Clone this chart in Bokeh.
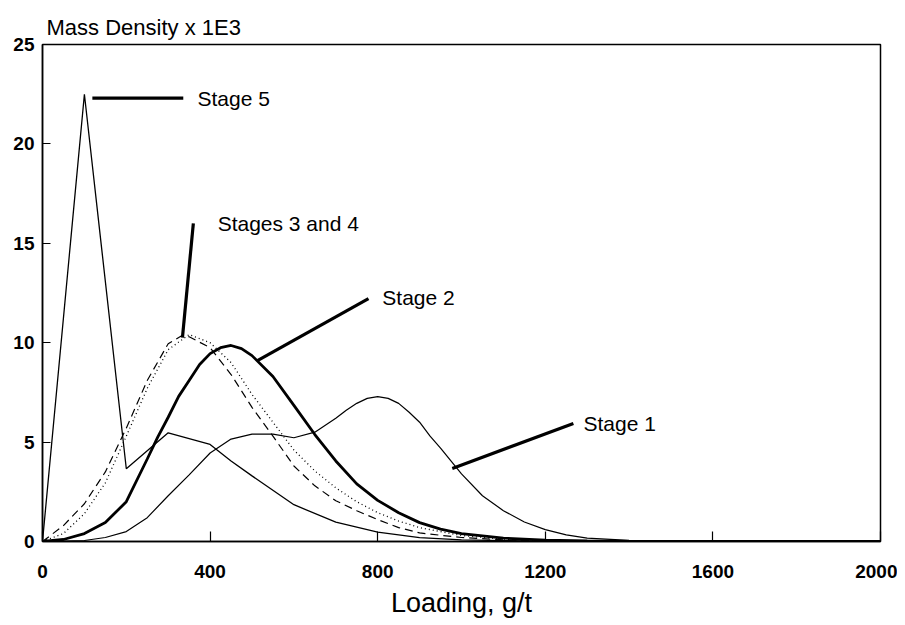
from bokeh.plotting import figure
from bokeh.embed import file_html
from bokeh.resources import INLINE
from bokeh.core.properties import value

# ---- data ----
stage1_x = [0, 100, 150, 200, 250, 300, 350, 400, 450, 500, 550, 600, 650, 700, 725, 750, 775, 800, 825, 850, 875,
            900, 925, 950, 1000, 1050, 1100, 1150, 1200, 1250, 1300, 1400, 1500, 1600, 2000]
stage1_y = [0, 0.05, 0.2, 0.5, 1.2, 2.3, 3.35, 4.45, 5.15, 5.4, 5.4, 5.22, 5.5, 6.2, 6.6, 6.95, 7.2, 7.29, 7.2, 6.95, 6.5,
            6.0, 5.3, 4.7, 3.4, 2.3, 1.55, 0.98, 0.6, 0.33, 0.17, 0.06, 0.02, 0.0, 0.0]

stage2_x = [0, 50, 100, 150, 200, 250, 275, 300, 325, 350, 375, 400, 425, 450, 475, 500, 550, 600, 650, 700, 750, 800,
            850, 900, 950, 1000, 1100, 1200, 1300, 1400, 1600, 2000]
stage2_y = [0, 0.1, 0.4, 0.95, 2.0, 4.15, 5.25, 6.25, 7.3, 8.1, 8.9, 9.45, 9.75, 9.86, 9.7, 9.35, 8.3, 6.85, 5.38, 4.05,
            2.9, 2.07, 1.45, 0.95, 0.62, 0.4, 0.17, 0.07, 0.03, 0.01, 0.0, 0.0]

stage3_x = [0, 50, 100, 150, 200, 250, 300, 333, 350, 400, 450, 500, 550, 600, 650, 700, 750, 800, 850, 900,
            1000, 1100, 1200, 1300, 1400]
stage3_y = [0, 0.8, 1.9, 3.5, 5.7, 8.1, 9.95, 10.36, 10.3, 9.75, 8.4, 6.75, 5.3, 3.8, 2.8, 2.05, 1.55, 1.1, 0.7, 0.43,
            0.2, 0.08, 0.03, 0.01, 0.0]

stage4_x = [0, 50, 100, 150, 200, 250, 300, 350, 400, 450, 500, 550, 600, 650, 700, 750, 800, 850, 900,
            1000, 1100, 1200, 1300, 1400]
stage4_y = [0, 0.4, 1.4, 2.95, 5.3, 7.7, 9.65, 10.41, 10.0, 9.0, 7.4, 6.0, 4.6, 3.55, 2.7, 2.0, 1.45, 1.03, 0.7,
            0.3, 0.12, 0.05, 0.02, 0.0]

stage5_x = [0, 100, 200, 300, 400, 450, 500, 600, 700, 800, 900, 1000, 1100, 1200, 1400, 2000]
stage5_y = [0, 22.5, 3.66, 5.47, 4.88, 4.05, 3.3, 1.85, 0.97, 0.47, 0.2, 0.08, 0.04, 0.02, 0.0, 0.0]

x_ticks = [0, 400, 800, 1200, 1600, 2000]
y_ticks = [0, 5, 10, 15, 20, 25]

# annotations: label text, label anchor, leader line ends
label_text = ["Stage 5", "Stages 3 and 4", "Stage 2", "Stage 1"]
label_x = [370, 418, 811, 1291]
label_y = [22.26, 16.0, 12.27, 5.94]
leader_x0 = [119, 334, 513, 978]
leader_y0 = [22.3, 10.26, 9.1, 3.67]
leader_x1 = [336, 360, 778, 1267]
leader_y1 = [22.3, 16.0, 12.22, 5.94]

FONT = "Liberation Sans"

p = figure(width=897, height=623, output_backend="svg", toolbar_location=None,
           x_range=(0, 2000), y_range=(0, 25),
           min_border_left=42, min_border_right=17, min_border_top=44, min_border_bottom=82)

p.background_fill_color = "white"
p.border_fill_color = "white"
p.outline_line_color = "black"
p.outline_line_width = 1.5
p.xgrid.visible = False
p.ygrid.visible = False

p.title.text = "Mass Density x 1E3"
p.title.text_font = FONT
p.title.text_font_size = "22px"
p.title.text_font_style = "normal"
p.title.text_color = "black"
p.title.align = "left"
p.title.offset = 4
p.title.standoff = 10

for ax in (p.xaxis, p.yaxis):
    ax.axis_line_width = 1.5
    ax.axis_line_color = "black"
    ax.major_tick_out = 0
    ax.minor_tick_in = 0
    ax.minor_tick_out = 0
    ax.major_tick_line_width = 1.2
    ax.major_label_text_font = FONT
    ax.major_label_text_font_size = "19px"
    ax.major_label_text_font_style = "bold"
    ax.major_label_text_color = "black"

p.xaxis.ticker = x_ticks
p.yaxis.ticker = y_ticks
p.xaxis.major_tick_in = 10
p.yaxis.major_tick_in = 8
p.xaxis.major_label_standoff = 23
p.yaxis.major_label_standoff = 8

p.xaxis.axis_label = "Loading, g/t"
p.xaxis.axis_label_text_font = FONT
p.xaxis.axis_label_text_font_size = "27px"
p.xaxis.axis_label_text_font_style = "normal"
p.xaxis.axis_label_text_color = "black"
p.xaxis.axis_label_standoff = 7

# curves
p.line(stage1_x, stage1_y, line_color="black", line_width=1.2)
p.line(stage5_x, stage5_y, line_color="black", line_width=1.3)
p.line(stage3_x, stage3_y, line_color="black", line_width=1.2, line_dash="8 5")
p.line(stage4_x, stage4_y, line_color="black", line_width=1.3, line_dash="1 3")
p.line(stage2_x, stage2_y, line_color="black", line_width=2.8)

# leader lines and labels
p.segment(leader_x0, leader_y0, leader_x1, leader_y1, line_color="black", line_width=3.2)
p.text(label_x, label_y, text=label_text, text_font=value(FONT), text_font_size="21px",
       text_baseline="middle", text_align="left", text_color="black")

open("out.html", "w").write(file_html(p, INLINE))
